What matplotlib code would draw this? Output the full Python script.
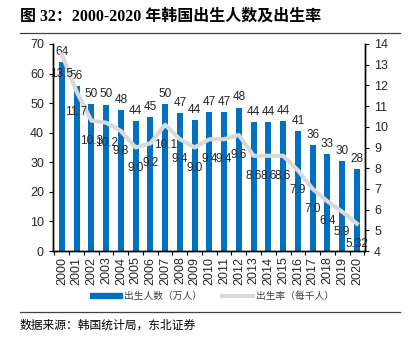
import numpy as np
import matplotlib
matplotlib.use("Agg")
import matplotlib.pyplot as plt
from matplotlib.patches import Patch
from matplotlib.lines import Line2D

plt.rcParams['font.family'] = ['Liberation Sans', 'Noto Sans CJK SC', 'DejaVu Sans']

# Data
years = [str(y) for y in range(2000, 2021)]
births = [63.8, 55.9, 49.6, 49.5, 47.6, 43.8, 45.2, 49.7, 46.6, 44.4, 47.0,
          47.1, 48.5, 43.6, 43.5, 43.8, 40.6, 35.8, 32.7, 30.3, 27.6]
birth_rate = [13.5, 11.7, 10.3, 10.2, 9.8, 9.0, 9.2, 10.1, 9.4, 9.0, 9.4,
              9.4, 9.6, 8.6, 8.6, 8.6, 7.9, 7.0, 6.4, 5.9, 5.32]

bar_color = '#0070C0'
line_color = '#D9D9D9'
text_color = '#262626'

fig = plt.figure(figsize=(4.08, 3.37), dpi=100)
ax = fig.add_axes([53 / 408, 1 - 251 / 337, (365 - 53) / 408, (251 - 44) / 337])
ax2 = ax.twinx()

x = np.arange(len(years))
ax.bar(x, births, width=0.42, color=bar_color, zorder=2)
for xi, v in zip(x, births):
    ax.annotate(f"{v:.0f}", (xi, v), xytext=(0, 3), textcoords='offset points',
                ha='center', va='bottom', fontsize=8.5, color=text_color)

ax2.plot(x, birth_rate, color=line_color, linewidth=3, zorder=3)
for xi, v in zip(x, birth_rate):
    lab = f"{v:.1f}" if round(v, 1) == v else f"{v:.2f}"
    ax2.annotate(lab, (xi, v), xytext=(0, -14.5), textcoords='offset points',
                 ha='center', va='center', fontsize=8.5, color=text_color)

ax.set_xlim(-0.6, 20.55)
ax.set_ylim(0, 70)
ax.set_yticks(range(0, 71, 10))
ax2.set_ylim(4, 14)
ax2.set_yticks(range(4, 15))

ax.set_xticks(x)
ax.set_xticklabels(years, rotation=90, fontsize=9, color=text_color)
ax.tick_params(axis='x', length=0, pad=4)
ax.set_xticks(np.arange(-0.5, 21, 1), minor=True)
ax.tick_params(axis='x', which='minor', length=3, width=0.8)
ax.tick_params(axis='y', labelsize=9, labelcolor=text_color, length=3, width=0.8)
ax2.tick_params(axis='y', labelsize=9, labelcolor=text_color, length=3, width=0.8)

for a in (ax, ax2):
    a.spines['top'].set_visible(False)
    for s in ('left', 'right', 'bottom'):
        a.spines[s].set_linewidth(1.0)
        a.spines[s].set_color('black')

handles = [Patch(color=bar_color), Line2D([0], [0], color=line_color, linewidth=3)]
leg = fig.legend(handles, ['出生人数（万人）', '出生率（每千人）'], loc='center',
                 bbox_to_anchor=(0.52, 1 - 296 / 337), ncol=2, frameon=False,
                 fontsize=7, handlelength=3.2, handleheight=0.5, columnspacing=2.0,
                 handletextpad=0.3)
for t in leg.get_texts():
    t.set_color('#404040')

# Title, rules and source
fig.text(20 / 408, 1 - 17 / 337, '图 32：2000-2020 年韩国出生人数及出生率',
         fontsize=11.5, fontweight='bold', ha='left', va='center', color='black',
         family=['Liberation Serif', 'Noto Sans CJK SC'])
fig.add_artist(Line2D([20 / 408, 400 / 408], [1 - 33 / 337] * 2, color='#404040', linewidth=0.9))
fig.add_artist(Line2D([20 / 408, 400 / 408], [1 - 312 / 337] * 2, color='#404040', linewidth=0.9))
fig.text(20 / 408, 1 - 326 / 337, '数据来源：韩国统计局，东北证券', fontsize=8.5,
         ha='left', va='center', color='black')

fig.savefig('out.png', dpi=100)
